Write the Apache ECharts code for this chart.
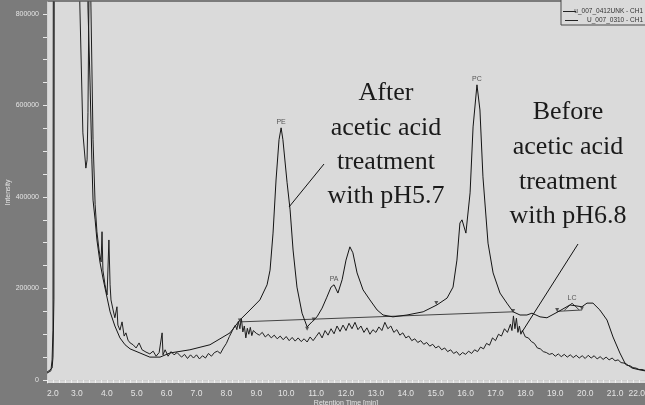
<!DOCTYPE html>
<html>
<head>
<meta charset="utf-8">
<script src="https://cdn.jsdelivr.net/npm/echarts@6.0.0/dist/echarts.min.js"></script>
<style>
html,body{margin:0;padding:0;background:#7b7b7b;}
#chart{width:645px;height:405px;}
</style>
</head>
<body>
<div id="chart"></div>
<script>
// ---- data ----
// After acetic acid treatment (pH5.7)  -- u_007_0412UNK - CH1
const afterTime = [2.00,2.10,2.17,2.20,2.23,2.25,2.80,3.30,3.37,3.44,3.50,3.54,3.61,3.67,3.77,3.87,3.97,
  4.11,4.27,4.44,4.61,4.78,5.11,5.44,5.78,6.11,6.78,7.45,8.12,8.45,8.79,
  9.12,9.36,9.46,9.56,9.66,9.76,9.83,9.89,10.03,10.13,10.23,10.36,10.53,10.70,10.86,
  11.03,11.20,11.36,11.50,11.60,11.73,11.87,12.00,12.13,12.23,12.37,12.57,12.80,
  13.04,13.24,13.57,14.04,14.58,15.04,15.38,15.58,15.71,15.81,15.88,
  16.01,16.15,16.25,16.38,16.48,16.58,16.75,16.92,17.15,17.38,17.59,17.82,
  18.05,18.22,18.49,18.72,19.09,19.49,19.89,20.06,20.26,20.49,20.73,20.93,
  21.16,21.33,21.57,21.83,22.00];
const afterIntensity = [17000,22000,26000,50000,175000,1500000,1500000,1500000,815000,649000,481000,393000,350000,306000,258000,223000,192000,
  149000,118000,92000,77000,68000,59000,50000,50000,59000,66000,77000,103000,131000,153000,
  175000,208000,240000,321000,437000,525000,551000,525000,431000,372000,284000,203000,146000,116000,127000,
  138000,157000,181000,203000,208000,190000,219000,262000,291000,278000,234000,197000,175000,
  153000,142000,138000,142000,149000,164000,179000,203000,262000,343000,350000,
  321000,409000,553000,645000,590000,444000,299000,234000,190000,168000,149000,142000,
  142000,146000,138000,136000,149000,164000,160000,168000,168000,153000,131000,94000,
  59000,37000,26000,22000,20000];

// Before acetic acid treatment (pH6.8) -- U_007_0310 - CH1
const beforeTime = [2.00,2.13,2.17,2.20,2.22,2.90,3.10,3.20,3.30,3.34,
  3.37,3.40,3.42,3.45,3.47,3.54,3.61,3.67,3.74,3.81,
  3.84,3.87,3.94,4.01,4.07,4.11,4.14,4.21,4.27,4.34,
  4.37,4.44,4.51,4.58,4.64,4.71,4.78,4.88,4.98,5.08,
  5.18,5.31,5.44,5.55,5.65,5.75,5.85,5.88,5.95,6.05,
  6.15,6.25,6.35,6.50,6.60,6.70,6.80,6.90,7.00,7.10,
  7.20,7.30,7.40,7.50,7.60,7.70,7.80,7.90,8.00,8.10,
  8.20,8.30,8.35,8.40,8.45,8.50,8.55,8.60,8.65,8.70,
  8.75,8.80,8.85,8.90,9.00,9.10,9.20,9.30,9.40,9.50,
  9.60,9.70,9.80,9.90,10.00,10.10,10.20,10.30,10.40,10.50,
  10.60,10.70,10.80,10.90,11.00,11.10,11.20,11.30,11.40,11.50,
  11.60,11.70,11.80,11.90,12.00,12.10,12.20,12.30,12.40,12.50,
  12.60,12.70,12.80,12.90,13.00,13.10,13.20,13.30,13.40,13.50,
  13.60,13.70,13.80,13.90,14.00,14.10,14.20,14.30,14.40,14.50,
  14.60,14.70,14.80,14.90,15.00,15.10,15.20,15.30,15.40,15.50,
  15.60,15.70,15.80,15.90,16.00,16.10,16.20,16.30,16.40,16.50,
  16.60,16.70,16.80,16.90,17.00,17.10,17.20,17.30,17.40,17.50,
  17.55,17.60,17.65,17.70,17.75,17.80,17.85,17.90,18.00,18.10,
  18.20,18.30,18.40,18.50,18.60,18.70,18.80,18.90,19.00,19.10,
  19.20,19.30,19.40,19.50,19.60,19.70,19.80,19.90,20.00,20.10,
  20.20,20.30,20.40,20.50,20.60,20.70,20.80,20.90,21.00,21.10,
  21.20,21.30,21.40,21.50,21.60,21.70,21.80,21.90,22.00];
const beforeIntensity = [15000,20000,44000,109000,1500000,1500000,815000,540000,463000,481000,
  584000,815000,1000000,1000000,815000,525000,383000,324000,284000,258000,
  324000,240000,208000,186000,306000,208000,175000,153000,136000,160000,
  120000,109000,127000,96000,103000,87000,81000,77000,70000,81000,
  66000,61000,57000,63000,52000,60000,103000,55000,66000,52000,
  62000,55000,60000,50000,56000,47000,55000,48000,55000,46000,
  53000,48000,58000,52000,60000,63000,58000,70000,80000,95000,
  108000,120000,110000,128000,112000,135000,105000,118000,92000,113000,
  100000,115000,97000,108000,102000,98000,104000,94000,100000,92000,
  98000,90000,96000,88000,95000,86000,93000,85000,92000,84000,
  90000,83000,94000,86000,95000,104000,92000,108000,98000,112000,
  101000,118000,106000,120000,108000,124000,112000,126000,110000,118000,
  104000,114000,100000,110000,104000,116000,108000,126000,112000,118000,
  104000,110000,98000,103000,92000,96000,86000,90000,82000,86000,
  78000,82000,74000,78000,70000,74000,66000,70000,62000,66000,
  58000,62000,54000,60000,56000,63000,58000,66000,62000,72000,
  68000,80000,76000,92000,86000,100000,96000,112000,104000,122000,
  108000,140000,112000,135000,104000,118000,100000,108000,94000,92000,
  84000,80000,70000,68000,62000,60000,56000,58000,52000,57000,
  51000,56000,50000,55000,49000,54000,48000,53000,47000,54000,
  48000,53000,46000,51000,45000,50000,44000,48000,42000,44000,
  38000,37000,32000,31000,27000,26000,23000,23000,21000];

// integration baselines
const baselineTime = [8.45, 17.59];
const baselineIntensity = [127000, 149000];
const lcBaseTime = [19.06, 19.89];
const lcBaseIntensity = [150000, 153000];
const lcPeakTime = [19.30, 19.56, 19.80];
const lcPeakIntensity = [152000, 168000, 153000];
const markTime = [8.45, 10.70, 10.92, 15.02, 17.59, 19.06, 19.89];
const markIntensity = [130000, 112000, 132000, 168000, 151000, 153000, 156000];

// peak names
const peakNames = ['PE', 'PA', 'PC', 'LC'];
const peakTime = [9.83, 11.60, 16.38, 19.56];
const peakIntensity = [551000, 208000, 645000, 168000];

// axes
const xLabelValues = [2,3,4,5,6,7,8,9,10,11,12,13,14,15,16,17,18,19,20,21,22];
const yLabelValues = [0,200000,400000,600000,800000];
const seriesNames = ['u_007_0412UNK - CH1', 'U_007_0310 - CH1'];

// ---- build ----
const zip = (a, b) => a.map((t, i) => [t, b[i]]);
const xTicks = [];
for (let i = 0; i <= 100; i++) xTicks.push(+(2 + i * 0.2).toFixed(1));
const yTicks = [];
for (let i = 0; i <= 16; i++) yTicks.push(i * 50000);

const labelColor = '#e4e4e4';
const chart = echarts.init(document.getElementById('chart'), null, {renderer: 'canvas'});
chart.setOption({
  animation: false,
  backgroundColor: '#7b7b7b',
  grid: {left: 47, right: 0, top: 2, bottom: 22, show: true, backgroundColor: '#dadada', borderWidth: 0,
    containLabel: false, outerBoundsMode: 'none'},
  xAxis: {
    type: 'value', min: 2, max: 22,
    name: 'Retention Time [min]', nameLocation: 'middle', nameGap: 17, nameMoveOverlap: false,
    nameTextStyle: {color: labelColor, fontSize: 7, fontFamily: 'Liberation Sans'},
    axisLine: {show: true, lineStyle: {color: '#d0d0d0', width: 1}},
    axisTick: {show: true, customValues: xTicks, length: 3, lineStyle: {color: '#f0f0f0'}},
    axisLabel: {customValues: xLabelValues, formatter: v => v.toFixed(1), color: labelColor,
      fontSize: 8.5, fontFamily: 'Liberation Sans', margin: 6, alignMinLabel: 'left', alignMaxLabel: 'right'},
    splitLine: {show: false}
  },
  yAxis: {
    type: 'value', min: -6560, max: 826000,
    name: 'Intensity', nameLocation: 'middle', nameGap: 35, nameMoveOverlap: false,
    nameTextStyle: {color: labelColor, fontSize: 7, fontFamily: 'Liberation Sans'},
    axisLine: {show: true, lineStyle: {color: '#d0d0d0', width: 1}},
    axisTick: {show: true, customValues: yTicks, length: 4, lineStyle: {color: '#e8e8e8'}},
    axisLabel: {customValues: yLabelValues, formatter: v => String(v), color: labelColor,
      fontSize: 7, fontFamily: 'Liberation Sans', margin: 8},
    splitLine: {show: false}
  },
  series: [
    {name: seriesNames[0], type: 'line', data: zip(afterTime, afterIntensity), showSymbol: false, symbol: 'none',
      clip: true, lineStyle: {color: '#141414', width: 1}, z: 3},
    {name: seriesNames[1], type: 'line', data: zip(beforeTime, beforeIntensity), showSymbol: false, symbol: 'none',
      clip: true, lineStyle: {color: '#1e1e1e', width: 1}, z: 3},
    {type: 'line', data: zip(baselineTime, baselineIntensity), symbol: 'none', lineStyle: {color: '#444', width: 1}, z: 2},
    {type: 'line', data: zip(lcBaseTime, lcBaseIntensity), symbol: 'none', lineStyle: {color: '#444', width: 1}, z: 2},
    {type: 'line', data: zip(lcPeakTime, lcPeakIntensity), symbol: 'none', lineStyle: {color: '#444', width: 1}, z: 2},
    {type: 'scatter', data: zip(markTime, markIntensity), symbol: 'triangle', symbolRotate: 180, symbolSize: 4,
      itemStyle: {color: '#333'}, z: 4},
    {type: 'scatter', data: peakTime.map((t, i) => [t, peakIntensity[i], peakNames[i]]), symbolSize: 0,
      label: {show: true, position: 'top', distance: 2, formatter: p => p.data[2], color: '#333',
        fontSize: 7, fontFamily: 'Liberation Sans'}, z: 5}
  ],
  graphic: [
    // legend box
    {type: 'rect', shape: {x: 561, y: -1, width: 85, height: 26}, style: {fill: '#dadada', stroke: '#4a4a4a', lineWidth: 1}, z: 10},
    {type: 'line', shape: {x1: 563, y1: 11.5, x2: 576, y2: 11.5}, style: {stroke: '#222', lineWidth: 1}, z: 11},
    {type: 'text', x: 643, y: 11.5, style: {text: seriesNames[0], align: 'right', verticalAlign: 'middle',
      font: '6.5px "Liberation Sans"', fill: '#333'}, z: 11},
    {type: 'line', shape: {x1: 565, y1: 20.5, x2: 578, y2: 20.5}, style: {stroke: '#222', lineWidth: 1}, z: 11},
    {type: 'text', x: 643, y: 20.5, style: {text: seriesNames[1], align: 'right', verticalAlign: 'middle',
      font: '6.5px "Liberation Sans"', fill: '#333'}, z: 11},
    // annotations
    {type: 'text', x: 386, y: 93, style: {text: 'After', align: 'center', verticalAlign: 'middle', font: '26px "Liberation Serif"', fill: '#1a1a1a'}, z: 12},
    {type: 'text', x: 386, y: 128, style: {text: 'acetic acid', align: 'center', verticalAlign: 'middle', font: '26px "Liberation Serif"', fill: '#1a1a1a'}, z: 12},
    {type: 'text', x: 386, y: 162, style: {text: 'treatment', align: 'center', verticalAlign: 'middle', font: '26px "Liberation Serif"', fill: '#1a1a1a'}, z: 12},
    {type: 'text', x: 386, y: 196, style: {text: 'with pH5.7', align: 'center', verticalAlign: 'middle', font: '26px "Liberation Serif"', fill: '#1a1a1a'}, z: 12},
    {type: 'text', x: 568, y: 112, style: {text: 'Before', align: 'center', verticalAlign: 'middle', font: '26px "Liberation Serif"', fill: '#1a1a1a'}, z: 12},
    {type: 'text', x: 568, y: 147, style: {text: 'acetic acid', align: 'center', verticalAlign: 'middle', font: '26px "Liberation Serif"', fill: '#1a1a1a'}, z: 12},
    {type: 'text', x: 568, y: 182, style: {text: 'treatment', align: 'center', verticalAlign: 'middle', font: '26px "Liberation Serif"', fill: '#1a1a1a'}, z: 12},
    {type: 'text', x: 568, y: 216, style: {text: 'with pH6.8', align: 'center', verticalAlign: 'middle', font: '26px "Liberation Serif"', fill: '#1a1a1a'}, z: 12},
    {type: 'line', shape: {x1: 324, y1: 164, x2: 289, y2: 207}, style: {stroke: '#111', lineWidth: 1}, z: 12},
    {type: 'line', shape: {x1: 578, y1: 244, x2: 522, y2: 332}, style: {stroke: '#111', lineWidth: 1}, z: 12}
  ]
});
</script>
</body>
</html>
